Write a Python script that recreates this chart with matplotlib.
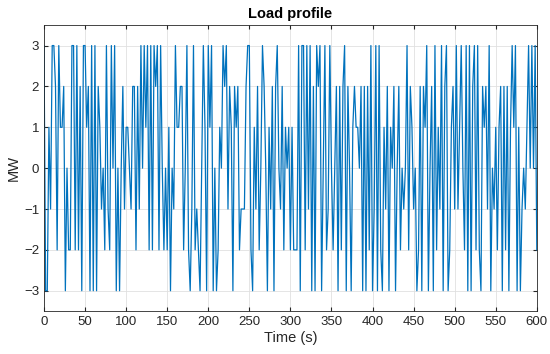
import numpy as np
import matplotlib
matplotlib.use('Agg')
import matplotlib.pyplot as plt

# Load values, one every 2 s
load_a = [3, -3, -3, 1, -1, 3, 3, 2, -2, 3,
          1, 1, 2, -3, 0, -2, -2, 3, 3, -2,
          3, -2, 2, -3, 3, 3, 1, 2, -3, 3,
          -3, 3, -3, 2, 1, -1, 0, -2, 3, -1,
          -2, 3, 0, 3, -3, 0, -3, 0, 2, -1,
          1, 1, 0, -1, 2, 2, -2, 2, -1, 3,
          0, 3, 1, 3, -2, 3, -2, 3, 2, 3]
load_b = [-2, 3, 0, -2, 0, -2, 1, -3, 0, -1,
          3, 1, 1, 2, 2, -2, 0, 3, -2, -3,
          -1, 3, -2, -1, -2, -3, 0, 3, 1, -3,
          3, 1, 3, -3, 0, -3, -2, 1, 0, 3,
          2, 3, -1, 2, 1, -3, 2, 1, 2, -2,
          -1, -1, -1, 2, 3, 3, -2, -3, 1, -1,
          2, -2, 0, 3, 2, 0, -3, 1, -1, 2,
          -3, 2, 3, 0, -1, 2, -2, 1]
load_c = [0, 1, -2, 1, -2, -2, -2, 3, -3, 3,
          3, -2, 3, -1, 3, -3, 2, -3, 3, 2,
          3, -3, 0, 3, -2, -1, 3, 0, -2, 0,
          2, -3, 2, -2, 2, 3, -3, 2, 0, -3,
          1, 2, 1, 1, 0, 2, -3, 2, -3, 2,
          -2, 3, -3, -1, 3, -3, 3, -2, -3, 1,
          -1, 2, -3, 1, 0, 2, -3, 0, 2, -2,
          0, -1, 0]
load_d = [3, -2, 2, 1, -1, 0, -3, -2, 2, -3,
          2, 1, 3, -3, 0, 2, -3, 3, -2, 1,
          -1, 3, -3, 2, 3, -3, -2, 1, 2, -1,
          3, -1, 1, 3, 0, -2, 3, -3, 3, -3,
          2, 3, -2, 3, -2, -3, 2, 1, 2, -1,
          3, -3, 0, -1, 1, -2, 1, 2, -3, 2,
          -2, 2, -3, 1, 3, 1, 3, -3, 1, -3,
          -1, 0, -1, 1, 3, 0, 3, 0, 3, -2]

x_ticks = list(range(0, 601, 50))
y_ticks = [-3, -2, -1, 0, 1, 2, 3]

load = load_a + load_b + load_c + load_d
time = np.arange(len(load)) * 2

plt.rcParams['font.family'] = ['Liberation Sans', 'DejaVu Sans']

fig = plt.figure(figsize=(5.5, 3.54), dpi=100)
ax = fig.add_axes([0.08, 0.121, 0.896, 0.808])
ax.plot(time, load, color='#0072BD', linewidth=0.9)

ax.set_xlim(0, 600)
ax.set_ylim(-3.5, 3.5)
ax.set_xticks(x_ticks)
ax.set_yticks(y_ticks)
ax.grid(True, color='#e0e0e0', linewidth=0.6)
ax.set_axisbelow(True)
ax.tick_params(direction='in', length=3, labelsize=9.5, colors='#262626',
               top=True, right=True)
for s in ax.spines.values():
    s.set_color('#262626')
    s.set_linewidth(0.6)

ax.set_xlabel('Time (s)', fontsize=10.5, color='#262626', labelpad=2)
ax.set_ylabel('MW', fontsize=10.5, color='#262626', labelpad=2)
ax.set_title('Load profile', fontsize=10.5, fontweight='bold', pad=5)

fig.savefig('out.png', dpi=100)
